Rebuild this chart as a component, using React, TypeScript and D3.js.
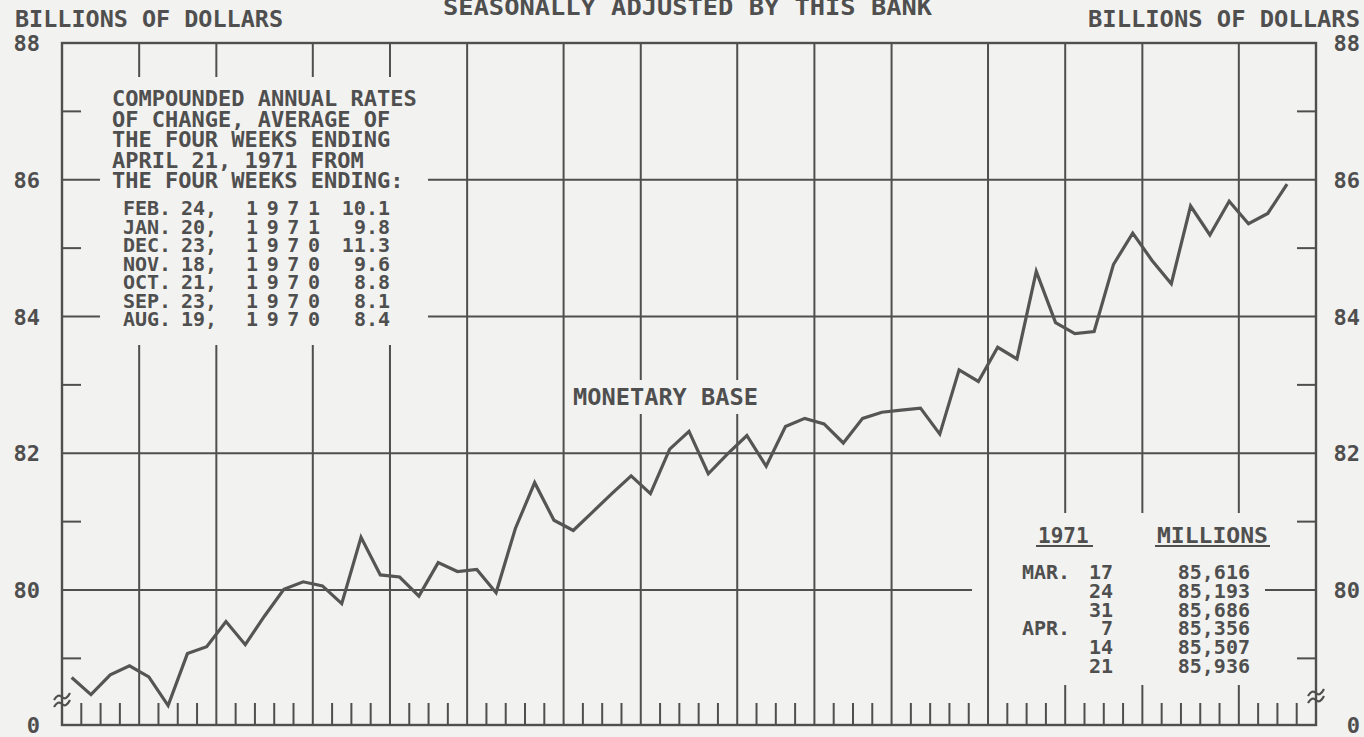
import { useEffect, useRef } from "react";
import * as d3 from "d3";

// monetary base, weekly, billions of dollars, week ending Feb 4 1970 .. Apr 21 1971
const baseValues = [
  78.72, 78.47, 78.76, 78.89, 78.73, 78.31, 79.07, 79.17, 79.54, 79.2,
  79.62, 80.01, 80.12, 80.06, 79.8, 80.77, 80.22, 80.19, 79.91, 80.4,
  80.27, 80.3, 79.96, 80.9, 81.57, 81.02, 80.87, 81.14, 81.41, 81.67,
  81.41, 82.06, 82.32, 81.7, 81.99, 82.26, 81.81, 82.39, 82.51, 82.43,
  82.15, 82.51, 82.6, 82.63, 82.66, 82.28, 83.22, 83.05, 83.55, 83.38,
  84.66, 83.91, 83.75, 83.78, 84.76, 85.22, 84.82, 84.48, 85.616, 85.193,
  85.686, 85.356, 85.507, 85.936,
];

const yMajor = [80, 82, 84, 86, 88];
const yMinor = [79, 81, 83, 85, 87];

const noteHeader = [
  "COMPOUNDED ANNUAL RATES",
  "OF CHANGE, AVERAGE OF",
  "THE FOUR WEEKS ENDING",
  "APRIL 21, 1971 FROM",
  "THE FOUR WEEKS ENDING:",
];
const noteMonths = ["FEB.", "JAN.", "DEC.", "NOV.", "OCT.", "SEP.", "AUG."];
const noteDays = ["24,", "20,", "23,", "18,", "21,", "23,", "19,"];
const noteYears = ["1971", "1971", "1970", "1970", "1970", "1970", "1970"];
const noteRates = ["10.1", "9.8", "11.3", "9.6", "8.8", "8.1", "8.4"];

const recentMonths = ["MAR.", "", "", "APR.", "", ""];
const recentDays = ["17", "24", "31", "7", "14", "21"];
const recentMillions = ["85,616", "85,193", "85,686", "85,356", "85,507", "85,936"];

const W = 1364;
const H = 737;
const INK = "#4f4f4f";
const FONT = "DejaVu Sans Mono";

// spans where the printed grid is interrupted by the lettering
const vCuts = [
  { x0: 100, x1: 430, y0: 77, y1: 345 },
  { x0: 568, x1: 762, y0: 380, y1: 414 },
  { x0: 1000, x1: 1275, y0: 513, y1: 685 },
];
const hCuts = [
  { x0: 100, x1: 428, y0: 77, y1: 345 },
  { x0: 972, x1: 1265, y0: 500, y1: 690 },
];

function cutSpan(a: number, b: number, cuts: { lo: number; hi: number }[]) {
  let parts = [[a, b]];
  cuts.forEach((c) => {
    const next: number[][] = [];
    parts.forEach(([p, q]) => {
      if (c.hi <= p || c.lo >= q) next.push([p, q]);
      else {
        if (c.lo > p) next.push([p, c.lo]);
        if (c.hi < q) next.push([c.hi, q]);
      }
    });
    parts = next;
  });
  return parts;
}

function renderChart(el: SVGSVGElement) {
  const svg = d3.select(el);
  svg.selectAll("*").remove();

  const weeks = d3.timeWednesday.range(new Date(1970, 1, 1), new Date(1971, 4, 1));
  const left = 62,
    right = 1316,
    top = 43,
    bottom = 725;

  const x = d3.scaleLinear().domain([0, weeks.length]).range([left, right]);
  const y = d3.scaleLinear().domain([80, 88]).range([590, top]);

  svg.append("rect").attr("width", W).attr("height", H).attr("fill", "#f2f2f0");

  const g = svg.append("g").attr("stroke", INK).attr("fill", "none");

  // frame
  g.append("rect")
    .attr("x", left)
    .attr("y", top)
    .attr("width", right - left)
    .attr("height", bottom - top)
    .attr("stroke-width", 2.4);

  // month lines and weekly ticks
  const monthIdx: number[] = [];
  const weekIdx: number[] = [];
  d3.range(1, weeks.length).forEach((i) => {
    if (weeks[i].getMonth() !== weeks[i - 1].getMonth()) monthIdx.push(i);
    else weekIdx.push(i);
  });

  monthIdx.forEach((i) => {
    const xv = x(i);
    const cuts = vCuts.filter((c) => xv > c.x0 && xv < c.x1).map((c) => ({ lo: c.y0, hi: c.y1 }));
    cutSpan(top, bottom, cuts).forEach(([a, b]) => {
      g.append("line").attr("x1", xv).attr("x2", xv).attr("y1", a).attr("y2", b).attr("stroke-width", 2);
    });
  });

  g.selectAll("line.wk")
    .data(weekIdx)
    .join("line")
    .attr("class", "wk")
    .attr("x1", (d) => x(d))
    .attr("x2", (d) => x(d))
    .attr("y1", bottom)
    .attr("y2", bottom - 22)
    .attr("stroke-width", 2);

  // horizontal rules at the even values
  yMajor.filter((v) => v < 88).forEach((v) => {
    const yv = y(v);
    const cuts = hCuts.filter((c) => yv > c.y0 && yv < c.y1).map((c) => ({ lo: c.x0, hi: c.x1 }));
    cutSpan(left, right, cuts).forEach(([a, b]) => {
      g.append("line").attr("x1", a).attr("x2", b).attr("y1", yv).attr("y2", yv).attr("stroke-width", 2);
    });
  });

  // short ticks at the odd values, both sides
  yMinor.forEach((v) => {
    g.append("line").attr("x1", left).attr("x2", left + 19).attr("y1", y(v)).attr("y2", y(v)).attr("stroke-width", 2);
    g.append("line").attr("x1", right - 19).attr("x2", right).attr("y1", y(v)).attr("y2", y(v)).attr("stroke-width", 2);
  });

  // scale breaks
  [
    [left, 697],
    [right, 693],
  ].forEach(([bx, by]) => {
    [0, 7].forEach((dy) => {
      g.append("path")
        .attr("d", `M${bx - 8},${by + dy + 3} q4,-7 8,-3 t8,-4`)
        .attr("stroke-width", 2.2);
    });
  });

  // monetary base line
  const line = d3
    .line<number>()
    .x((_, i) => x(i + 0.5))
    .y((d) => y(d));
  g.append("path").datum(baseValues).attr("d", line).attr("stroke-width", 3.2).attr("stroke-linejoin", "miter").attr("stroke", "#555");

  // text
  const t = svg.append("g").attr("fill", INK).attr("font-family", FONT).attr("font-weight", "bold");

  const put = (
    s: string,
    tx: number,
    ty: number,
    size: number,
    anchor = "start",
    len?: number,
    adjust = "spacingAndGlyphs"
  ) => {
    const el = t
      .append("text")
      .attr("x", tx)
      .attr("y", ty)
      .attr("font-size", size)
      .attr("text-anchor", anchor)
      .text(s);
    if (len) el.attr("textLength", len).attr("lengthAdjust", adjust);
    return el;
  };

  put("BILLIONS OF DOLLARS", 15, 27, 23, "start", 268);
  put("SEASONALLY ADJUSTED BY THIS BANK", 443, 15, 23, "start", 489);
  put("BILLIONS OF DOLLARS", 1088, 27, 23, "start", 272);

  // value labels
  yMajor.forEach((v) => {
    put(String(v), 40, y(v) + 8, 22, "end");
    put(String(v), 1360, y(v) + 8, 22, "end");
  });
  put("0", 40, bottom + 8, 22, "end");
  put("0", 1360, bottom + 8, 22, "end");

  // note, upper left
  noteHeader.forEach((s, i) => put(s, 112, 98 + i * 20.5 + 8, 22));
  noteMonths.forEach((s, i) => {
    const ty = 208 + i * 18.5 + 7;
    put(s, 123, ty, 20);
    put(noteDays[i], 181, ty, 20);
    put(noteYears[i], 246, ty, 20, "start", 74, "spacing");
    put(noteRates[i], 390, ty, 20, "end");
  });

  put("MONETARY BASE", 573, 397 + 8, 23, "start", 185);

  // recent weeks, lower right
  put("1971", 1038, 535 + 7.5, 21);
  put("MILLIONS", 1157, 535 + 7.5, 21, "start", 111);
  g.append("line").attr("x1", 1036).attr("x2", 1093).attr("y1", 546).attr("y2", 546).attr("stroke-width", 2);
  g.append("line").attr("x1", 1155).attr("x2", 1270).attr("y1", 546).attr("y2", 546).attr("stroke-width", 2);
  recentDays.forEach((s, i) => {
    const ty = 572 + i * 18.8 + 7;
    if (recentMonths[i]) put(recentMonths[i], 1022, ty, 20);
    put(s, 1113, ty, 20, "end");
    put(recentMillions[i], 1250, ty, 20, "end");
  });
}

export default function App() {
  const ref = useRef<SVGSVGElement>(null);
  useEffect(() => {
    if (ref.current) renderChart(ref.current);
  }, []);
  return (
    <svg
      ref={ref}
      width={W}
      height={H}
      style={{ position: "absolute", left: 0, top: 0, display: "block" }}
    />
  );
}
